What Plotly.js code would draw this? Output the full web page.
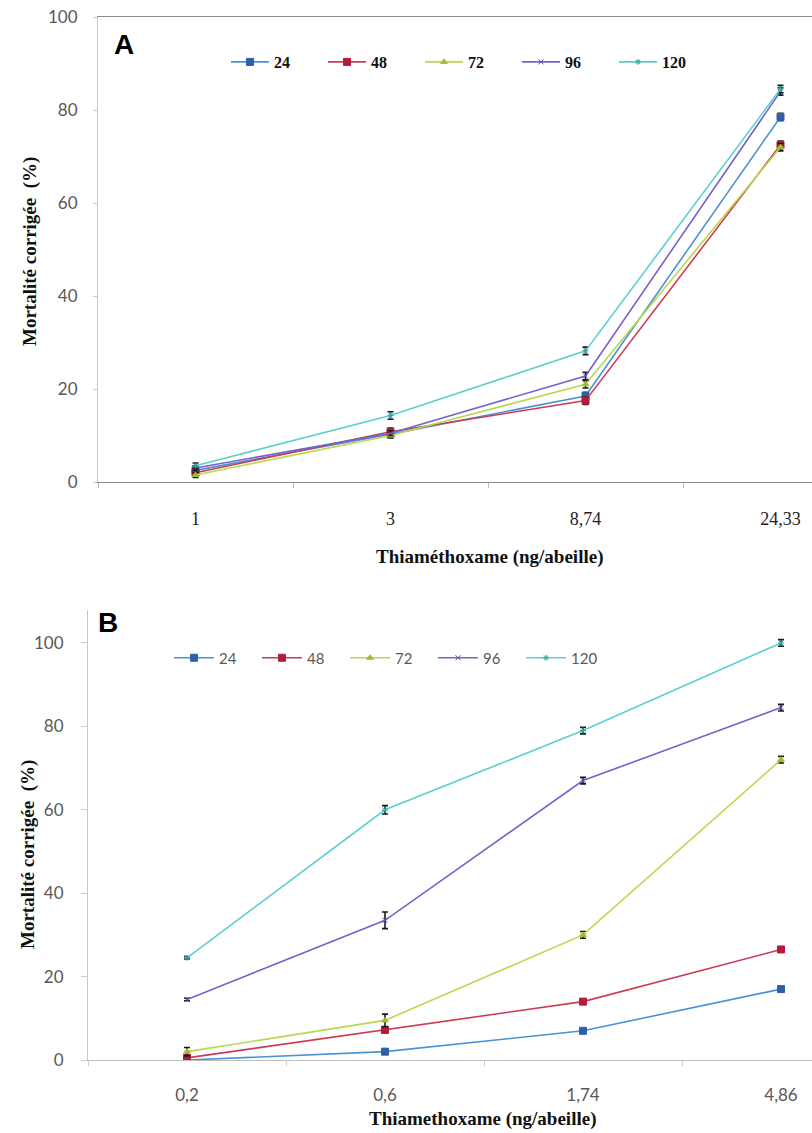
<!DOCTYPE html>
<html>
<head>
<meta charset="utf-8">
<script src="https://cdn.plot.ly/plotly-3.0.1.min.js"></script>
<style>
  html, body { margin: 0; padding: 0; overflow: hidden; background: #fff; }
  #chart { width: 880px; height: 1133px; }
</style>
</head>
<body>
<div id="chart"></div>
<script>
// Doses (ng/abeille) for the two assays
const dosesA = ['1', '3', '8,74', '24,33'];
const dosesB = ['0,2', '0,6', '1,74', '4,86'];

// Exposure times (hours), one series each
const hours = ['24', '48', '72', '96', '120'];

// Panel A: corrected mortality (%)
const A_24  = [2.5, 10.3, 18.5, 78.5];
const A_48  = [2.0, 10.8, 17.5, 72.5];
const A_72  = [1.5, 10.0, 21.0, 72.0];
const A_96  = [3.0, 10.5, 22.8, 84.0];
const A_120 = [3.5, 14.3, 28.2, 84.5];

// Panel A: standard errors
const A_24_err  = [0.5, 0.5, 0.8, 0.8];
const A_48_err  = [0.5, 0.8, 0.8, 0.8];
const A_72_err  = [0.5, 0.5, 0.8, 0.8];
const A_96_err  = [0.5, 0.5, 0.8, 0.8];
const A_120_err = [0.6, 0.8, 0.8, 0.8];

// Panel B: corrected mortality (%)
const B_24  = [0.0, 2.0, 7.0, 17.0];
const B_48  = [0.5, 7.2, 14.0, 26.5];
const B_72  = [2.0, 9.5, 30.0, 72.0];
const B_96  = [14.5, 33.5, 67.0, 84.5];
const B_120 = [24.5, 60.0, 79.0, 100.0];

// Panel B: standard errors
const B_24_err  = [0.3, 0.5, 0.5, 0.5];
const B_48_err  = [0.5, 0.5, 0.5, 0.5];
const B_72_err  = [1.0, 1.5, 0.8, 0.8];
const B_96_err  = [0.3, 2.0, 0.8, 0.8];
const B_120_err = [0.3, 1.0, 0.8, 0.8];

const seriesA = [A_24, A_48, A_72, A_96, A_120];
const errA = [A_24_err, A_48_err, A_72_err, A_96_err, A_120_err];
const seriesB = [B_24, B_48, B_72, B_96, B_120];
const errB = [B_24_err, B_48_err, B_72_err, B_96_err, B_120_err];

const lineColors = ['#4a92d6', '#cc3b55', '#b9d84a', '#7563c9', '#5ccfd0'];
const markerColors = ['#2f5fa8', '#b01e3a', '#9cbf30', '#5a48b0', '#2aa8a8'];
const symbols = ['square', 'square', 'triangle-up', 'x-thin-open', 'asterisk-open'];
const sizes = [7, 7, 6, 5, 5];

const W = 880, H = 1133;
const px = v => v / W;
const py = v => 1 - v / H;

const traces = [];
function addPanel(doses, series, errs, xa, ya, legendId) {
  series.forEach((vals, i) => {
    traces.push({
      type: 'scatter',
      mode: 'lines+markers',
      name: hours[i],
      x: doses,
      y: vals,
      xaxis: xa,
      yaxis: ya,
      legend: legendId,
      line: { color: lineColors[i], width: 1.6 },
      marker: { symbol: symbols[i], size: sizes[i], color: markerColors[i],
                line: { color: markerColors[i], width: 1 } },
      error_y: { type: 'data', array: errs[i], visible: true,
                 color: '#1a1a1a', thickness: 1.6, width: 3 }
    });
  });
}
addPanel(dosesA, seriesA, errA, 'x', 'y', 'legend');
addPanel(dosesB, seriesB, errB, 'x2', 'y2', 'legend2');

const sansTick = { family: 'Lato, "Liberation Sans", sans-serif', size: 17, color: '#595959' };
const serifBold = { family: '"Liberation Serif", "DejaVu Serif", serif', size: 19, color: '#111', weight: 'bold' };

// Free-standing label centred on a pixel position of the page
function label(text, x, y, font, angle) {
  return { text: text, x: px(x), y: py(y), xref: 'paper', yref: 'paper',
           xanchor: 'center', yanchor: 'middle', showarrow: false,
           textangle: angle || 0, font: font };
}

const layout = {
  width: W, height: H,
  margin: { l: 0, r: 0, t: 0, b: 0 },
  paper_bgcolor: '#fff', plot_bgcolor: '#fff',
  showlegend: true,
  xaxis: {
    type: 'category', domain: [px(98), px(878)], anchor: 'y', range: [-0.5, 3.5],
    showgrid: false, zeroline: false,
    showline: true, linecolor: '#8c8c8c', linewidth: 1.2, mirror: true,
    ticks: 'outside', tickson: 'boundaries', ticklen: 5, tickcolor: '#bbb',
    ticklabelstandoff: 20,
    tickfont: { family: '"Liberation Serif", serif', size: 18, color: '#222' }
  },
  yaxis: {
    domain: [py(482), py(17)], anchor: 'x', range: [0, 100],
    tickvals: [0, 20, 40, 60, 80, 100],
    showgrid: false, zeroline: false,
    showline: true, linecolor: '#c8c8c8', linewidth: 1,
    ticks: 'outside', ticklen: 4, tickcolor: '#ccc',
    ticklabelstandoff: 12,
    tickfont: sansTick
  },
  xaxis2: {
    type: 'category', domain: [px(88), px(880)], anchor: 'y2', range: [-0.5, 3.5],
    showgrid: false, zeroline: false,
    showline: true, linecolor: '#bdbdbd', linewidth: 1.2,
    ticks: 'outside', tickson: 'boundaries', ticklen: 5, tickcolor: '#ccc',
    ticklabelstandoff: 19,
    tickfont: sansTick
  },
  yaxis2: {
    domain: [py(1060), py(610)], anchor: 'x2', range: [0, 107.9],
    tickvals: [0, 20, 40, 60, 80, 100],
    showgrid: false, zeroline: false,
    showline: true, linecolor: '#c8c8c8', linewidth: 1,
    ticks: 'outside', ticklen: 6, tickcolor: '#ccc',
    ticklabelstandoff: 14,
    tickfont: sansTick
  },
  legend: {
    orientation: 'h', x: px(226), y: py(62), xanchor: 'left', yanchor: 'middle',
    entrywidth: 44, itemwidth: 38, bgcolor: 'rgba(0,0,0,0)',
    font: { family: '"Liberation Serif", serif', size: 16, color: '#111', weight: 'bold' }
  },
  legend2: {
    orientation: 'h', x: px(169), y: py(658), xanchor: 'left', yanchor: 'middle',
    entrywidth: 33, itemwidth: 40, bgcolor: 'rgba(0,0,0,0)',
    font: { family: 'Lato, "Liberation Sans", sans-serif', size: 15, color: '#595959' }
  },
  annotations: [
    label('A', 124, 45, { family: '"Liberation Sans", Arial, sans-serif', size: 28, color: '#000', weight: 'bold' }),
    label('B', 108, 622, { family: '"Liberation Sans", Arial, sans-serif', size: 28, color: '#000', weight: 'bold' }),
    label('Thiaméthoxame (ng/abeille)', 490, 557, serifBold),
    label('Thiamethoxame (ng/abeille)', 482, 1119, serifBold),
    label('Mortalité corrigée  (%)', 30, 252, serifBold, -90),
    label('Mortalité corrigée  (%)', 28, 855, serifBold, -90)
  ]
};

Plotly.newPlot('chart', traces, layout, { staticPlot: true, displayModeBar: false });
</script>
</body>
</html>
